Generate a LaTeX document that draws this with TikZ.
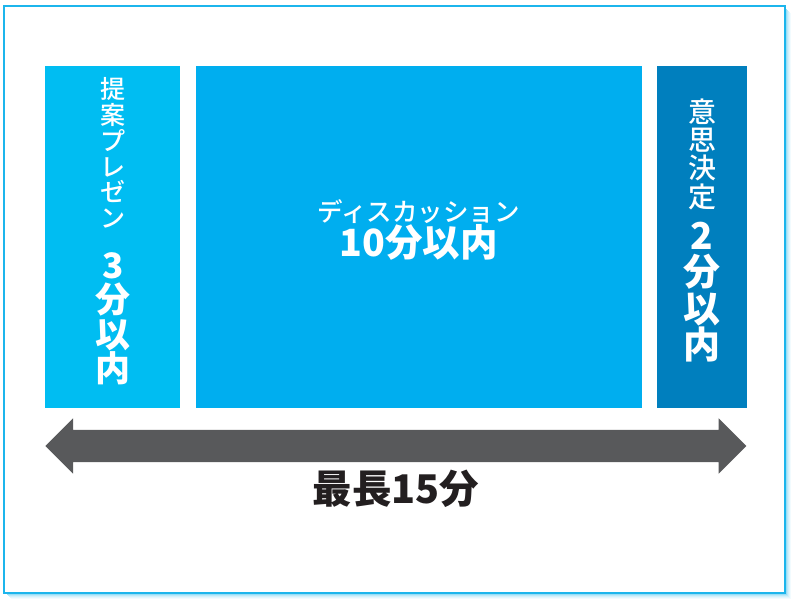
\documentclass[tikz,border=0pt]{standalone}
\usepackage{fontspec}
\newfontfamily\jpfont{Noto Sans CJK JP Medium}[BoldFont={Noto Sans CJK JP Black}]
\newfontfamily\jpheavy{Noto Sans CJK JP Black}
\usetikzlibrary{positioning,shapes.arrows}
\definecolor{propcyan}{HTML}{00BDF2}
\definecolor{disccyan}{HTML}{00AEEF}
\definecolor{decblue}{HTML}{007FBE}
\definecolor{spangray}{HTML}{58595B}
\definecolor{framecyan}{HTML}{1CB5EC}
\definecolor{labelblack}{HTML}{231F20}

\tikzset{
  phase/.style={minimum height=342pt, inner sep=0pt},
  phase text/.style={inner sep=0pt, text=white, font=\jpfont, align=center, text width=130pt},
}

\begin{document}
\begin{tikzpicture}[x=1pt,y=-1pt]
  \useasboundingbox (0,0) rectangle (797,606);
  % frame with soft shadow
  \foreach \d/\o in {1/0.45,2/0.3,3/0.2,4/0.12,5/0.06}
    \draw[framecyan, opacity=\o, line width=1pt] (6+\d,593+\d) -- (785+\d,593+\d) -- (785+\d,8+\d);
  \draw[framecyan, line width=2pt] (4,6) rectangle (785,593);

  \node[phase, fill=propcyan, minimum width=135pt, anchor=north west] (pitch) at (45,66) {};
  \node[phase, fill=disccyan, minimum width=446pt, right=15pt of pitch] (talk) {};
  \node[phase, fill=decblue, minimum width=90pt, right=15pt of talk] (decide) {};

  \node[phase text] (pitchtext) at ([yshift=6pt]pitch.center)
    {\fontsize{25}{25.8}\selectfont 提\\案\\プ\\レ\\ゼ\\ン\\[16pt]
     \bfseries\fontsize{35}{34.5}\selectfont 3\\分\\以\\内};
  \node[phase text, text width=400pt] (talktext) at ([yshift=7pt]talk.center)
    {\fontsize{25.5}{30}\selectfont ディスカッション\\
     \bfseries\fontsize{37.5}{46}\selectfont 10分以内};
  \node[phase text, text width=88pt] (decidetext) at ([yshift=7pt]decide.center)
    {\fontsize{28}{28.4}\selectfont 意\\思\\決\\定\\[5.5pt]
     \bfseries\fontsize{37}{36.5}\selectfont 2\\分\\以\\内};

  \node[double arrow, fill=spangray, minimum width=55pt, minimum height=701pt,
        double arrow head extend=11.5pt, inner xsep=0pt, inner ysep=16pt, anchor=west] (span) at (45,446) {};
  \node[below=4pt of span, text=labelblack, font=\jpheavy\fontsize{39.5}{40}\selectfont] (total) {最長15分};
\end{tikzpicture}
\end{document}
